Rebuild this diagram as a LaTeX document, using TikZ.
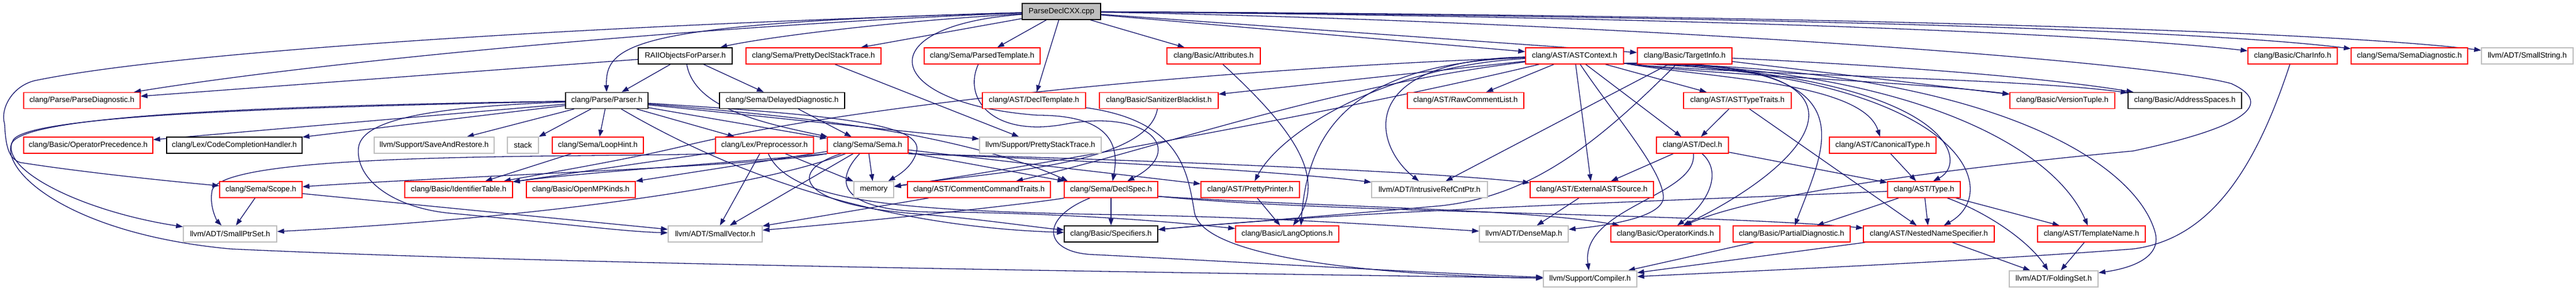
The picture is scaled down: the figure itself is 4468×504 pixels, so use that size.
\documentclass[tikz,border=0pt]{standalone}
\usepackage{fontspec}
\setmainfont{Liberation Sans}
\usetikzlibrary{arrows.meta}
\definecolor{edgecol}{HTML}{191970}
\definecolor{graycol}{HTML}{BFBFBF}
\definecolor{redcol}{HTML}{FF0000}
\pgfdeclarelayer{bglayer}
\pgfdeclarelayer{edgelayer}
\pgfsetlayers{bglayer,edgelayer,main}
\begin{document}
\begin{tikzpicture}[x=1pt,y=-1pt,
  nb/.style={rectangle, draw, fill=white, minimum height=28pt, inner xsep=5pt, inner ysep=0pt, line width=1.4pt, font=\fontsize{13.3pt}{16pt}\selectfont},
  rn/.style={nb, draw=redcol},
  bn/.style={nb, draw=black},
  gn/.style={nb, draw=graycol},
  conn/.style={draw=edgecol, line width=1.3pt, -{Triangle[length=12pt,width=8.5pt]}}
]
\begin{pgfonlayer}{bglayer}
\fill[white] (0,0) rectangle (4468,504);
\end{pgfonlayer}
\useasboundingbox (0,0) rectangle (4468,504);

% row 0
\node[nb, draw=black, fill=graycol, minimum width=136pt] (root) at (1841,20) {ParseDeclCXX.cpp};
% row 1
\node[bn, minimum width=163pt] (raii) at (1188.5,97) {RAIIObjectsForParser.h};
\node[rn, minimum width=234pt] (pdst) at (1411,97) {clang/Sema/PrettyDeclStackTrace.h};
\node[rn, minimum width=201pt] (ptmpl) at (1703.5,97) {clang/Sema/ParsedTemplate.h};
\node[rn, minimum width=162pt] (attr) at (2105,97) {clang/Basic/Attributes.h};
\node[rn, minimum width=170pt] (astctx) at (2731,97) {clang/AST/ASTContext.h};
\node[rn, minimum width=164pt] (tinfo) at (2922,97) {clang/Basic/TargetInfo.h};
\node[rn, minimum width=155pt] (charinfo) at (3976.5,97) {clang/Basic/CharInfo.h};
\node[rn, minimum width=202pt] (semadiag) at (4179,97) {clang/Sema/SemaDiagnostic.h};
\node[gn, minimum width=159pt] (smallstr) at (4383.5,97) {llvm/ADT/SmallString.h};
% row 2
\node[rn, minimum width=202pt] (parsediag) at (142,174.5) {clang/Parse/ParseDiagnostic.h};
\node[bn, minimum width=143pt] (parser) at (1052.5,174.5) {clang/Parse/Parser.h};
\node[bn, minimum width=217pt] (delayed) at (1356.5,174.5) {clang/Sema/DelayedDiagnostic.h};
\node[rn, minimum width=179pt] (decltmpl) at (1793.5,174.5) {clang/AST/DeclTemplate.h};
\node[rn, minimum width=206pt] (sanit) at (2010,174.5) {clang/Basic/SanitizerBlacklist.h};
\node[rn, minimum width=202pt] (rawcomment) at (2542,174.5) {clang/AST/RawCommentList.h};
\node[rn, minimum width=187pt] (asttt) at (3013.5,174.5) {clang/AST/ASTTypeTraits.h};
\node[rn, minimum width=182pt] (version) at (3577,174.5) {clang/Basic/VersionTuple.h};
\node[bn, minimum width=197pt] (addrsp) at (3789.5,174.5) {clang/Basic/AddressSpaces.h};
% row 3
\node[rn, minimum width=224pt] (opprec) at (153,252) {clang/Basic/OperatorPrecedence.h};
\node[bn, minimum width=235pt] (cch) at (406.5,252) {clang/Lex/CodeCompletionHandler.h};
\node[gn, minimum width=208pt] (sar) at (753,252) {llvm/Support/SaveAndRestore.h};
\node[gn, minimum width=54pt] (stack) at (907,252) {stack};
\node[rn, minimum width=158pt] (loophint) at (1037,252) {clang/Sema/LoopHint.h};
\node[rn, minimum width=170pt] (pp) at (1326,252) {clang/Lex/Preprocessor.h};
\node[rn, minimum width=140pt] (sema) at (1505,252) {clang/Sema/Sema.h};
\node[gn, minimum width=211pt] (pst) at (1804.5,252) {llvm/Support/PrettyStackTrace.h};
\node[rn, minimum width=125pt] (decl) at (2935.5,252) {clang/AST/Decl.h};
\node[rn, minimum width=185pt] (canon) at (3265.5,252) {clang/AST/CanonicalType.h};
% row 4
\node[rn, minimum width=143pt] (scope) at (452.5,329) {clang/Sema/Scope.h};
\node[rn, minimum width=187pt] (idtable) at (795.5,329) {clang/Basic/IdentifierTable.h};
\node[rn, minimum width=189pt] (openmp) at (1007.5,329) {clang/Basic/OpenMPKinds.h};
\node[gn, minimum width=69pt] (memory) at (1515.5,329) {memory};
\node[rn, minimum width=248pt] (cct) at (1698,329) {clang/AST/CommentCommandTraits.h};
\node[rn, minimum width=162pt] (declspec) at (1927,329) {clang/Sema/DeclSpec.h};
\node[rn, minimum width=171pt] (pprinter) at (2168.5,329) {clang/AST/PrettyPrinter.h};
\node[gn, minimum width=201pt] (irc) at (2479.5,329) {llvm/ADT/IntrusiveRefCntPtr.h};
\node[rn, minimum width=214pt] (extsrc) at (2761,329) {clang/AST/ExternalASTSource.h};
\node[rn, minimum width=126pt] (type) at (3337,329) {clang/AST/Type.h};
% row 5
\node[gn, minimum width=162pt] (smallptr) at (399,406) {llvm/ADT/SmallPtrSet.h};
\node[gn, minimum width=163pt] (smallvec) at (1240.5,406) {llvm/ADT/SmallVector.h};
\node[bn, minimum width=162pt] (spec) at (1927,406) {clang/Basic/Specifiers.h};
\node[rn, minimum width=179pt] (langopt) at (2232.5,406) {clang/Basic/LangOptions.h};
\node[gn, minimum width=154pt] (densemap) at (2643,406) {llvm/ADT/DenseMap.h};
\node[rn, minimum width=189pt] (opkinds) at (2888.5,406) {clang/Basic/OperatorKinds.h};
\node[rn, minimum width=203pt] (partdiag) at (3107.5,406) {clang/Basic/PartialDiagnostic.h};
\node[rn, minimum width=227pt] (nns) at (3345.5,406) {clang/AST/NestedNameSpecifier.h};
\node[rn, minimum width=187pt] (tname) at (3627.5,406) {clang/AST/TemplateName.h};
% row 6
\node[gn, minimum width=162pt] (compiler) at (2758,484) {llvm/Support/Compiler.h};
\node[gn, minimum width=154pt] (folding) at (3562,484) {llvm/ADT/FoldingSet.h};

\begin{pgfonlayer}{edgelayer}
% root
\draw[conn] (root) .. controls (1100,40) and (1050,75) .. (parser);
\draw[conn] (root) .. controls (1500,40) and (1300,70) .. (raii);
\draw[conn] (root) -- (pdst);
\draw[conn] (root) -- (ptmpl);
\draw[conn] (root) -- (decltmpl);
\draw[conn] (root) -- (attr);
\draw[conn] (root) -- (astctx);
\draw[conn] (root) -- (tinfo);
\draw[conn] (root) .. controls (3000,30) and (3650,60) .. (charinfo);
\draw[conn] (root) .. controls (3000,28) and (3800,50) .. (semadiag);
\draw[conn] (root) .. controls (3000,25) and (4000,50) .. (smallstr);
\draw[conn] (root) .. controls (1300,40) and (600,100) .. (parsediag);
\draw[conn] (root) .. controls (1000,45) and (300,90) .. (60,140) .. controls (20,150) and (0,190) .. (8,215) .. controls (10,255) and (15,275) .. (35,282) .. controls (150,300) and (300,315) .. (scope);
\draw[conn] (root) .. controls (1500,45) and (1530,180) .. (1800,200) .. controls (1935,200) and (1940,260) .. (declspec);
\draw[conn] (root) .. controls (2700,35) and (3700,100) .. (3870,145) .. controls (3935,175) and (3920,215) .. (3700,262) .. controls (3400,290) and (3050,335) .. (opkinds);
% RAII
\draw[conn] (raii) -- (parsediag);
\draw[conn] (raii) -- (parser);
\draw[conn] (raii) -- (delayed);
\draw[conn] (raii) .. controls (1205,190) and (1330,215) .. (sema);
% misc
\draw[conn] (delayed) -- (sema);
\draw[conn] (pdst) -- (pst);
\draw[conn] (ptmpl) .. controls (1670,170) and (1720,240) .. (1850,215) .. controls (1990,190) and (2060,260) .. (declspec);
\draw[conn] (decltmpl) .. controls (2050,210) and (2060,300) .. (2072,370) .. controls (2090,450) and (2400,478) .. (compiler);
\draw[conn] (attr) .. controls (2250,230) and (2300,310) .. (langopt);
\draw[conn] (sanit) .. controls (1990,290) and (1700,300) .. (memory);
% ASTContext
\draw[conn] (astctx) -- (rawcomment);
\draw[conn] (astctx) -- (extsrc);
\draw[conn] (astctx) -- (decl);
\draw[conn] (astctx) -- (asttt);
\draw[conn] (astctx) -- (sanit);
\draw[conn] (astctx) .. controls (2350,105) and (2380,250) .. (irc);
\draw[conn] (astctx) .. controls (2350,110) and (2268,220) .. ([xshift=24pt]langopt.north);
\draw[conn] (astctx) .. controls (2400,115) and (2220,230) .. (pprinter);
\draw[conn] (astctx) .. controls (2300,150) and (2000,260) .. (cct);
\draw[conn] (astctx) .. controls (2300,200) and (1750,295) .. (memory);
\draw[conn] (astctx) .. controls (2100,120) and (1500,180) .. (1200,250) .. controls (1100,275) and (950,300) .. (idtable);
\draw[conn] ([yshift=2pt]astctx.south east) .. controls (2950,130) and (3300,140) .. (version);
\draw[conn] ([yshift=2pt]astctx.south east) .. controls (2950,128) and (3500,135) .. (addrsp);
\draw[conn] ([yshift=2pt]astctx.south east) .. controls (2950,135) and (3230,140) .. (canon);
\draw[conn] ([yshift=2pt]astctx.south east) .. controls (3380,125) and (3420,280) .. ([xshift=16pt]type.north);
\draw[conn] ([yshift=2pt]astctx.south east) .. controls (3400,125) and (3480,330) .. (nns);
\draw[conn] ([yshift=2pt]astctx.south east) .. controls (3300,115) and (3560,250) .. (tname);
\draw[conn] ([yshift=2pt]astctx.south east) .. controls (3450,115) and (3700,280) .. (3737,400) .. controls (3752,445) and (3700,465) .. (folding);
\draw[conn] ([yshift=2pt]astctx.south east) .. controls (3250,105) and (3170,240) .. (partdiag);
\draw[conn] ([yshift=2pt]astctx.south east) .. controls (3300,100) and (3150,280) .. (opkinds);
\draw[conn] (astctx) .. controls (2800,200) and (2880,290) .. (2885,340) .. controls (2888,375) and (2800,390) .. (densemap);
% TargetInfo
\draw[conn] (tinfo) -- (irc);
\draw[conn] (tinfo) .. controls (2760,260) and (2650,340) .. (2500,357) .. controls (2300,375) and (2100,390) .. (spec);
\draw[conn] (tinfo) -- (version);
\draw[conn] (tinfo) .. controls (3300,115) and (3550,135) .. (addrsp);
% Decl
\draw[conn] (decl) -- (extsrc);
\draw[conn] (decl) -- (type);
\draw[conn] (decl) .. controls (2990,300) and (2960,355) .. (opkinds);
\draw[conn] (decl) .. controls (2945,340) and (2740,360) .. (compiler);
% ASTTypeTraits, CanonicalType
\draw[conn] (asttt) -- (decl);
\draw[conn] (asttt) -- (nns);
\draw[conn] (canon) -- (type);
% Type
\draw[conn] (type) -- (partdiag);
\draw[conn] (type) -- (nns);
\draw[conn] (type) -- (tname);
\draw[conn] (type) .. controls (3450,370) and (3520,420) .. (folding);
\draw[conn] (type) .. controls (3000,345) and (2400,362) .. (spec);
% lower
\draw[conn] (nns) -- (folding);
\draw[conn] (nns) -- (compiler);
\draw[conn] (tname) -- (folding);
\draw[conn] (partdiag) -- (compiler);
\draw[conn] (extsrc) -- (densemap);
\draw[conn] (charinfo) .. controls (3910,300) and (3830,415) .. (3700,432) .. controls (3400,455) and (3000,472) .. (compiler);
\draw[conn] (pprinter) -- (langopt);
\draw[conn] (cct) -- (smallvec);
% DeclSpec
\draw[conn] (declspec) -- (spec);
\draw[conn] (declspec) .. controls (1800,352) and (1500,385) .. (smallvec);
\draw[conn] ([yshift=3pt]declspec.south east) .. controls (2300,370) and (2950,370) .. (nns);
\draw[conn] ([yshift=3pt]declspec.south east) .. controls (2300,360) and (2650,362) .. (opkinds);
\draw[conn] (declspec) .. controls (1800,380) and (1810,440) .. (1900,442) .. controls (2100,452) and (2500,475) .. (compiler);
% Preprocessor
\draw[conn] (pp) -- (idtable);
\draw[conn] (pp) -- (smallvec);
\draw[conn] (pp) -- (memory);
\draw[conn] (pp) .. controls (1370,350) and (1560,365) .. (1900,372) .. controls (2200,376) and (2420,392) .. (densemap);
\draw[conn] (pp.south west) .. controls (1000,274) and (390,262) .. (368,330) .. controls (362,360) and (378,385) .. (smallptr);
% Sema
\draw[conn] (sema.south west) .. controls (1300,290) and (800,305) .. (scope);
\draw[conn] (sema.south west) .. controls (1300,280) and (1000,300) .. (idtable);
\draw[conn] (sema) -- (openmp);
\draw[conn] (sema) -- (memory);
\draw[conn] (sema) -- (smallvec);
\draw[conn] (sema) -- (declspec);
\draw[conn] (sema) .. controls (1370,295) and (1370,355) .. (1600,372) .. controls (1700,380) and (1800,395) .. (spec);
\draw[conn] (sema) .. controls (1450,310) and (1440,372) .. (1650,368) .. controls (1900,372) and (2060,388) .. (langopt);
\draw[conn] (sema) -- (pprinter);
\draw[conn] (sema.south east) .. controls (1900,275) and (2450,295) .. (extsrc);
\draw[conn] (sema.south east) .. controls (1900,278) and (2250,300) .. (irc);
\draw[conn] (sema) .. controls (1300,330) and (900,380) .. (smallptr);
% Scope, LoopHint
\draw[conn] (scope) -- (smallptr);
\draw[conn] (scope) -- (smallvec);
\draw[conn] (loophint) -- (idtable);
% Parser
\draw[conn] (parser) -- (opprec);
\draw[conn] (parser) -- (cch);
\draw[conn] (parser) -- (sar);
\draw[conn] (parser) -- (stack);
\draw[conn] (parser) -- (loophint);
\draw[conn] (parser) -- (pp);
\draw[conn] (parser) -- (sema);
\draw[conn] (parser) .. controls (1300,195) and (1450,210) .. (1580,234) .. controls (1680,253) and (1780,280) .. ([xshift=-75pt]declspec.north);
\draw[conn] (parser) -- (pst);
\draw[conn] (parser) .. controls (1450,200) and (1600,215) .. (1590,262) .. controls (1585,285) and (1565,300) .. (memory);
\draw[conn] (parser) .. controls (1250,290) and (1500,392) .. (spec);
\draw[conn] (parser) .. controls (760,185) and (630,205) .. (622,255) .. controls (615,310) and (680,360) .. (780,370) .. controls (950,385) and (1080,402) .. (smallvec);
\draw[conn] (parser) .. controls (500,186) and (35,200) .. (22,245) .. controls (-5,290) and (110,405) .. (400,432) .. controls (1000,460) and (2000,472) .. (compiler);
\draw[conn] (parser) .. controls (500,183) and (35,198) .. (20,250) .. controls (8,300) and (150,368) .. (smallptr);
\end{pgfonlayer}
\end{tikzpicture}
\end{document}
